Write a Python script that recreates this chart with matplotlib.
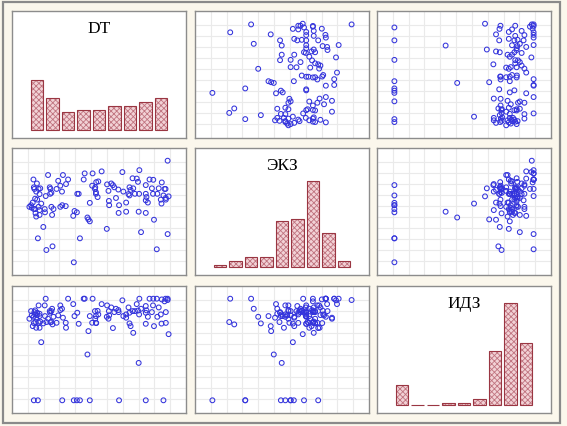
"""
Матрица диаграмм рассеяния: DT, ЭКЗ, ИДЗ
"""

import matplotlib
matplotlib.use('Agg')
import matplotlib.pyplot as plt
import numpy as np
from matplotlib.patches import Rectangle

plt.rcParams['hatch.linewidth'] = 0.6

VAR_NAMES = ['DT', 'ЭКЗ', 'ИДЗ']

DT = [
    32.4, 6.6, 36.8, 3.7, 24.1, 34.6, 43.9, 64.9, 84.1, 96.8,
    92.0, 12.7, 17.1, 99.8, 80.7, 56.1, 10.5, 43.9, 42.9, 42.2,
    90.0, 79.0, 9.0, 3.4, 5.9, 3.7, 8.3, 7.1, 5.4, 7.8,
    4.6, 6.1, 2.9, 1.7, 0.5, 4.6, 7.1, 7.8, 5.4, 7.8,
    2.2, 4.9, 4.1, 13.9, 21.2, 15.1, 15.6, 20.0, 12.2, 15.4,
    16.3, 11.5, 11.7, 16.3, 17.8, 16.8, 24.6, 28.3, 26.8, 22.7,
    23.9, 22.7, 26.6, 32.0, 32.9, 40.2, 39.5, 34.9, 35.9, 52.4,
    45.9, 50.0, 48.5, 45.6, 47.8, 47.6, 48.3, 48.3, 49.5, 56.3,
    59.3, 60.5, 61.5, 64.4, 57.3, 62.7, 57.6, 57.8, 64.6, 67.3,
    74.6, 77.6, 68.0, 72.4, 73.2, 75.1, 71.7, 72.4, 76.3, 70.0,
    70.0, 79.5, 78.5, 86.8, 88.5, 79.3, 84.1, 84.6, 84.1, 85.6,
    84.1, 99.8, 89.5, 95.6, 93.4, 97.6, 98.3, 89.3, 92.4, 98.5,
    100.5, 98.5, 94.9, 95.4,
]

EKZ = [
    0.0, 23.6, 23.6, 52.4, 56.2, 49.2, 58.5, 56.2, 76.0, 65.8,
    12.8, 12.1, 15.7, 27.8, 29.7, 32.9, 34.8, 40.3, 42.2, 44.1,
    41.9, 49.8, 57.8, 81.5, 77.6, 73.8, 72.8, 72.2, 69.6, 67.1,
    62.6, 61.7, 58.8, 56.2, 54.6, 52.4, 54.6, 51.4, 45.0, 46.6,
    53.7, 48.2, 72.2, 85.9, 80.2, 73.8, 72.2, 72.2, 65.2, 67.4,
    68.4, 52.4, 49.2, 54.6, 52.4, 46.6, 85.9, 81.5, 77.0, 75.4,
    69.6, 54.6, 55.3, 45.7, 50.5, 87.5, 81.5, 67.4, 67.4, 89.5,
    87.5, 79.6, 78.9, 75.4, 73.8, 72.2, 69.0, 67.4, 64.2, 76.7,
    77.6, 76.0, 73.8, 71.6, 70.3, 63.3, 60.4, 56.2, 48.6, 88.8,
    82.7, 82.4, 69.6, 73.8, 71.2, 72.8, 67.1, 65.8, 67.4, 58.8,
    49.8, 90.7, 79.2, 81.5, 72.8, 67.4, 67.4, 64.2, 61.0, 58.8,
    48.6, 100.0, 81.2, 78.6, 72.8, 72.2, 72.2, 67.4, 67.4, 63.3,
    64.9, 61.7, 61.7, 57.8,
]

IDZ = [
    0, 0, 0, 0, 0, 0, 0, 0, 0, 0,
    100, 77.0, 74.7, 100, 90.1, 82.2, 75.7, 82.9, 68.1, 45.1,
    73.0, 36.8, 57.2, 82.2, 83.9, 76.0, 77.5, 76.5, 71.4, 82.9,
    88.5, 86.2, 73.0, 87.8, 80.3, 84.5, 93.4, 71.4, 81.3, 85.2,
    83.6, 77.0, 86.8, 80.3, 83.6, 87.8, 76.8, 76.3, 100, 86.2,
    77.2, 93.4, 82.9, 87.8, 82.2, 90.1, 81.3, 100, 71.4, 93.4,
    90.1, 88.8, 76.3, 94.7, 82.9, 100, 100, 86.2, 75.3, 94.7,
    100, 84.5, 76.0, 76.3, 80.3, 87.8, 76.3, 82.9, 88.0, 93.4,
    91.4, 71.1, 86.8, 88.8, 80.3, 90.1, 87.8, 83.6, 86.8, 98.4,
    87.8, 94.7, 82.9, 75.7, 73.0, 66.4, 91.4, 86.2, 87.8, 81.3,
    84.5, 100, 88.3, 100, 86.8, 84.5, 75.3, 88.5, 92.8, 82.2,
    86.2, 98.7, 100, 99.3, 91.4, 97.4, 100, 93.4, 82.2, 86.8,
    65.1, 76.2, 84.5, 75.5,
]

N_BINS = 9

BG = '#FBF7EC'
FRAME = '#8C8C8C'
POINT = '#3434DC'
BAR_FACE = '#F2D2D6'
BAR_HATCH = '#C07480'
BAR_EDGE = '#9A3642'
GRID = '#EAEAEA'

W, H = 567, 427
COL_X = [12, 195, 377]
ROW_Y = [12, 149, 287]
PW, PH = 174, 127


def limits(vals, pad=0.125):
    lo, hi = min(vals), max(vals)
    r = hi - lo
    return lo - pad * r, hi + pad * r


fig = plt.figure(figsize=(W / 100, H / 100), dpi=100, facecolor=BG)
fig.add_artist(Rectangle((3 / W, 3 / H), 557 / W, 421 / H, transform=fig.transFigure,
                         fill=False, edgecolor='#8A8A8A', lw=1.6))

data = [DT, EKZ, IDZ]
lims = [limits(v) for v in data]

for i in range(3):
    for j in range(3):
        rect = [COL_X[j] / W, 1 - (ROW_Y[i] + PH) / H, PW / W, PH / H]
        ax = fig.add_axes(rect)
        ax.set_facecolor('white')
        for s in ax.spines.values():
            s.set_color(FRAME)
            s.set_linewidth(1.0)
        ax.tick_params(length=0, labelbottom=False, labelleft=False)
        xlo, xhi = lims[j]
        ax.set_xlim(xlo, xhi)

        if i == j:
            # гистограмма на диагонали
            counts, edges = np.histogram(data[j], bins=N_BINS)
            widths = np.diff(edges)
            centers = edges[:-1] + widths / 2
            ax.bar(centers, counts, width=widths * 0.82, color=BAR_FACE,
                   hatch='xxxxxx', edgecolor=BAR_HATCH, linewidth=0)
            ax.bar(centers, counts, width=widths * 0.82, fill=False,
                   edgecolor=BAR_EDGE, linewidth=0.8)
            ax.set_ylim(-4.2, 59.3)
            ax.set_xticks([])
            ax.set_yticks([])
            ax.text(0.5, 1 - 17 / PH, VAR_NAMES[j], transform=ax.transAxes,
                    ha='center', va='center', fontsize=12.5,
                    family=['Liberation Serif', 'DejaVu Serif'])
        else:
            ylo, yhi = lims[i]
            ax.set_ylim(ylo, yhi)
            ax.set_xticks(xlo + (xhi - xlo) * np.arange(1, 11) / 11)
            ax.set_yticks(ylo + (yhi - ylo) * (1 - (13.5 + 11.1 * np.arange(10)) / PH))
            ax.grid(True, color=GRID, lw=0.8)
            ax.set_axisbelow(True)
            ax.scatter(data[j], data[i], s=12, facecolors='none',
                       edgecolors=POINT, linewidths=0.75)

fig.savefig('out.png', dpi=100, facecolor=BG)
